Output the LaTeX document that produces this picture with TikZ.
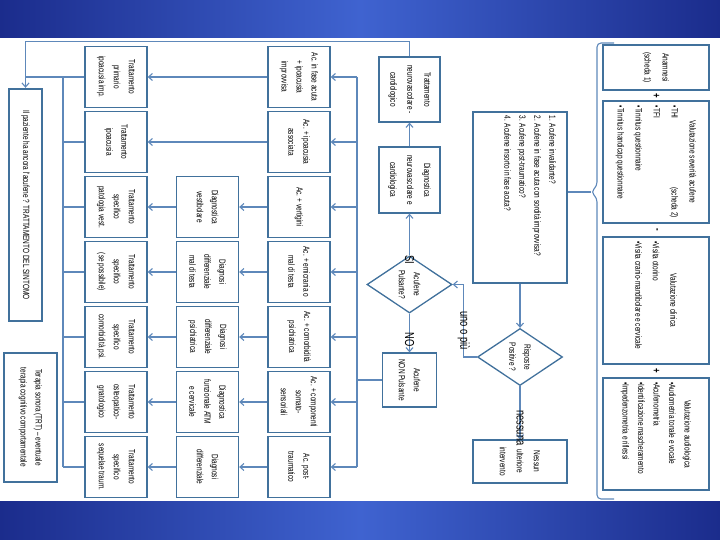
\documentclass[tikz,border=0pt]{standalone}
\usepackage{fontspec}
\setmainfont{Liberation Sans}[FakeStretch=0.72]
\usetikzlibrary{positioning,arrows.meta,shapes.geometric}
\definecolor{boxc}{HTML}{41719C}
\definecolor{linec}{HTML}{5E88BA}
\definecolor{bardark}{HTML}{1B2C8C}
\definecolor{barlight}{HTML}{3F63D0}

\begin{document}
\begin{tikzpicture}[x=1pt,y=-1pt,
  font=\fontsize{9}{15}\selectfont,
  box/.style={draw=boxc,line width=1.3pt,fill=white,rotate=-90,align=center,inner sep=1pt},
  rowbox/.style={box,minimum width=61pt,minimum height=62pt},
  ask/.style={diamond,draw=boxc,line width=1.3pt,fill=white,rotate=-90,align=center,inner sep=0pt,minimum width=57pt,minimum height=85pt},
  link/.style={draw=linec,line width=1.1pt},
  arr/.style={link,-{Straight Barb[length=4pt,width=7pt]}},
  lbl/.style={rotate=-90,font=\fontsize{13}{13}\selectfont},
  sign/.style={rotate=-90,font=\bfseries\fontsize{11}{11}\selectfont}]
  \useasboundingbox (0,0) rectangle (720,540);
  \shade[left color=bardark,right color=bardark,middle color=barlight] (0,0) rectangle (720,38);
  \shade[left color=bardark,right color=bardark,middle color=barlight] (0,501) rectangle (720,540);

  % valutazioni
  \node[box,minimum width=45pt,minimum height=106pt] (anam) at (656,67.5) {Anamnesi\\[3pt](scheda 1)};
  \node[sign] (p1) at (656,95.5) {+};
  \node[box,minimum width=122pt,minimum height=106pt] (sev) at (656,162) {\parbox{112pt}{\fontsize{9}{18}\selectfont\centering Valutazione severità acufene\par\raggedright •THI\hfill(scheda 2)\hspace*{14pt}\\•TFI\\•Tinnitus questionnaire\\•Tinnitus handicap questionnaire}};
  \node[sign] (m1) at (656,230) {-};
  \node[box,minimum width=127pt,minimum height=106pt] (clin) at (656,300.5) {\parbox{118pt}{\fontsize{9}{17.5}\selectfont\centering Valutazione clinica\par\raggedright •Visita otorino\\•Visita cranio-mandibolare e cervicale}};
  \node[sign] (p2) at (656,371) {+};
  \node[box,minimum width=112pt,minimum height=106pt] (audio) at (656,434) {\parbox{104pt}{\fontsize{9}{15.5}\selectfont\centering Valutazione audiologica\par\raggedright •Audiometria tonale e vocale\\•Acufenometria\\•Identificazione mascheramento\\•Impedenzometria e riflessi}};
  \coordinate (cusp) at (591,192);
  \draw[link,rounded corners=4pt] (614,43) -| (597,186) -- (cusp) -- (597,198) |- (614,499);

  % domande
  \node[box,minimum width=171pt,minimum height=94pt] (quest) at (520,197.5) {\parbox[c][86pt][t]{163pt}{\vspace*{7pt}\raggedright 1. Acufene invalidante?\\2. Acufene in fase acuta con sordità improvvisa?\\3. Acufene post-traumatico?\\4. Acufene insorto in fase acuta?}};
  \node[ask] (risp) at (520,357) {Risposte\\Positive ?};
  \node[box,minimum width=43pt,minimum height=94pt,font=\fontsize{9}{17}\selectfont] (ness) at (520,461.5) {Nessun\\ulteriore\\intervento};
  \node[ask] (puls) at (409.5,284.5) {Acufene\\Pulsante?};
  \node[box,minimum width=54pt,minimum height=54pt] (nonp) at (409.5,380) {Acufene\\NON Pulsante};
  \node[box,minimum width=66pt,minimum height=61pt,font=\fontsize{9}{17}\selectfont] (diag) at (409.5,180) {Diagnostica\\neurovascolare e\\cardiologica};
  \node[box,minimum width=65pt,minimum height=61pt,font=\fontsize{9}{17}\selectfont] (tneu) at (409.5,89.5) {Trattamento\\neurovascolare -\\cardiologico};

  % quadri clinici
  \node[rowbox] (ac1) at (299,77) {Ac. in fase acuta\\+ ipoacusia\\improvvisa};
  \node[rowbox] (ac2) at (299,142) {Ac. + ipoacusia\\associata};
  \node[rowbox] (ac3) at (299,207) {Ac. + vertigini};
  \node[rowbox] (ac4) at (299,272) {Ac. + emicrania o\\mal di testa};
  \node[rowbox] (ac5) at (299,337) {Ac. + comorbidità\\psichiatrica};
  \node[rowbox] (ac6) at (299,402) {Ac. + componenti\\somato-\\sensoriali};
  \node[rowbox] (ac7) at (299,467) {Ac. post-\\traumatico};

  \node[rowbox] (dg3) at (207.5,207) {Diagnostica\\vestibolare};
  \node[rowbox] (dg4) at (207.5,272) {Diagnosi\\differenziale\\mal di testa};
  \node[rowbox] (dg5) at (207.5,337) {Diagnosi\\differenziale\\psichiatrica};
  \node[rowbox] (dg6) at (207.5,402) {Diagnostica\\funzionale ATM\\e cervicale};
  \node[rowbox] (dg7) at (207.5,467) {Diagnosi\\differenziale};

  \node[rowbox] (tr1) at (116,77) {Trattamento\\primario\\ipoacusia imp.};
  \node[rowbox] (tr2) at (116,142) {Trattamento\\ipoacusia};
  \node[rowbox] (tr3) at (116,207) {Trattamento\\specifico\\patologia vest.};
  \node[rowbox] (tr4) at (116,272) {Trattamento\\specifico\\(se possibile)};
  \node[rowbox] (tr5) at (116,337) {Trattamento\\specifico\\comorbidità psi.};
  \node[rowbox] (tr6) at (116,402) {Trattamento\\osteopatico-\\gnatologico};
  \node[rowbox] (tr7) at (116,467) {Trattamento\\specifico\\sequelae traum.};

  \node[box,line width=2.4pt,minimum width=232pt,minimum height=33pt] (paz) at (25.5,205) {Il paziente ha ancora l'acufene ? TRATTAMENTO DEL SINTOMO};
  \node[box,minimum width=129pt,minimum height=53pt] (ter) at (30.5,417.5) {Terapia sonora (TRT) – eventuale\\terapia cognitivo comportamentale};

  % collegamenti
  \draw[link] (cusp) -- (cusp -| quest.north);
  \draw[arr] (quest) -- (risp);
  \draw[arr] (risp) -- node[lbl,xshift=15pt] (lnes) {nessuna} (ness);
  \draw[arr] (risp.south) -- ++(-13,0) |- node[lbl,pos=0.25,xshift=10pt] (luno) {uno o più} (puls.north);
  \draw[arr] (puls) -- node[lbl,pos=0.33,xshift=18pt] (lsi) {SI} (diag);
  \draw[arr] (puls) -- node[lbl,pos=0.38,xshift=11pt] (lno) {NO} (nonp);
  \draw[arr] (diag) -- (tneu);
  \draw[arr] (tneu.west) -- ++(0,-15) -| (paz.west);

  \coordinate (busR) at (357,0);
  \coordinate (busL) at (63,0);
  \draw[link] (nonp.south) -- (nonp.south -| busR);
  \draw[link] (ac1.north -| busR) -- (ac7.north -| busR);
  \foreach \i in {1,...,7}
    \draw[arr] (ac\i.north -| busR) -- (ac\i.north);
  \foreach \i in {1,2}
    \draw[arr] (ac\i) -- (tr\i);
  \foreach \i in {3,...,7} {
    \draw[arr] (ac\i) -- (dg\i);
    \draw[arr] (dg\i) -- (tr\i);
  }
  \draw[link] (tr1.south) -- (tr1.south -| paz.west);
  \draw[link] (tr1.south -| busL) -- (tr7.south -| busL);
  \foreach \i in {2,...,7}
    \draw[link] (tr\i.south) -- (tr\i.south -| busL);
\end{tikzpicture}
\end{document}
